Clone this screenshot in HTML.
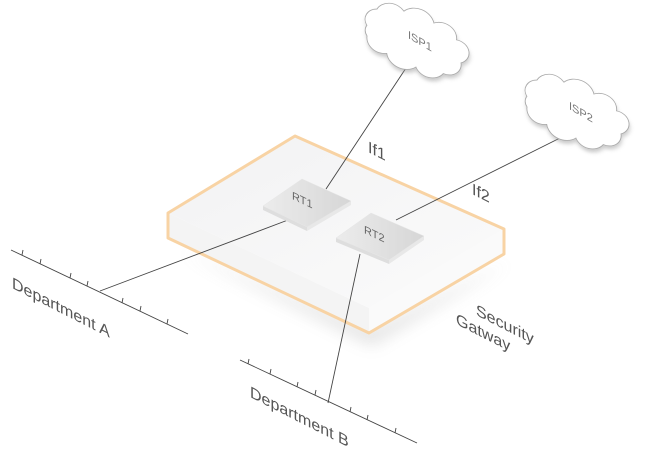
<!DOCTYPE html>
<html><head><meta charset="utf-8"><style>
html,body{margin:0;padding:0;background:#fff;}
svg{display:block;font-family:"Liberation Sans",sans-serif;}
</style></head><body>
<svg width="660" height="453" viewBox="0 0 660 453" xmlns="http://www.w3.org/2000/svg">
<defs>
<linearGradient id="top" x1="0" y1="0" x2="1" y2="1">
<stop offset="0" stop-color="#f2f2f3"/><stop offset="1" stop-color="#fbfbfb"/></linearGradient>
<linearGradient id="rt" x1="0" y1="0" x2="1" y2="0">
<stop offset="0" stop-color="#ececec"/><stop offset="1" stop-color="#d6d6d6"/></linearGradient>
<filter id="sh" x="-20%" y="-20%" width="140%" height="160%"><feGaussianBlur stdDeviation="8"/></filter>
<filter id="cs" x="-20%" y="-20%" width="140%" height="140%"><feGaussianBlur stdDeviation="2"/></filter>
<path id="cloud" d="M -50,10 a12,12 0 0 1 2,-20 a14,14 0 0 1 22,-10 a16,16 0 0 1 28,-2 a14,14 0 0 1 24,6 a12,12 0 0 1 12,20 a12,12 0 0 1 -10,18 a14,14 0 0 1 -24,6 a16,16 0 0 1 -28,0 a14,14 0 0 1 -22,-8 a10,10 0 0 1 -4,-10z"/>
</defs>

<path d="M180,250 L372,345 L510,262 L372,330 Z" fill="#999" opacity="0.3" filter="url(#sh)"/>
<path d="M168,213 L369,308 L369,333 L168,238 Z" fill="#f4f4f4"/>
<path d="M369,308 L504,229 L504,254 L369,333 Z" fill="#fafafa"/>
<path d="M295,136 L504,229 L369,308 L168,213 Z" fill="url(#top)"/>
<path d="M295,136 L504,229 L504,254 L369,333 L168,238 L168,213 Z" fill="none" stroke="#f8d3a4" stroke-width="3" stroke-linejoin="round"/>

<g stroke="#444" stroke-width="0.9" fill="none">
<line x1="410" y1="62" x2="326" y2="189"/>
<line x1="570" y1="133" x2="396" y2="220"/>
<line x1="288" y1="220" x2="100" y2="291"/>
<line x1="360" y1="254" x2="328" y2="403"/>
<line x1="11" y1="250" x2="188" y2="334"/>
<line x1="240" y1="360" x2="417" y2="443"/>
<path d="M22,255 l1,-5 M40,264 l1,-5 M70,278 l1,-5 M87,286 l1,-5 M122,303 l1,-5 M140,311 l1,-5 M167,324 l1,-5"/>
<path d="M248,364 l1,-5 M270,374 l1,-5 M297,387 l1,-5 M315,395 l1,-5 M350,412 l1,-5 M367,420 l1,-5 M395,433 l1,-5"/>
</g>

<path d="M263,206 L307,227 L307,231 L263,210 Z" fill="#dedede"/>
<path d="M307,227 L351,201 L351,205 L307,231 Z" fill="#e8e8e8"/>
<path d="M302,179 L351,201 L307,227 L263,206 Z" fill="url(#rt)" stroke="#e6e6e6" stroke-width="0.5"/>
<text transform="translate(292,199) skewY(25)" font-size="11" fill="#666">RT1</text>
<path d="M336,238 L389,260 L389,264 L336,242 Z" fill="#dedede"/>
<path d="M389,260 L424,236 L424,240 L389,264 Z" fill="#e8e8e8"/>
<path d="M371,213 L424,236 L389,260 L336,238 Z" fill="url(#rt)" stroke="#e6e6e6" stroke-width="0.5"/>
<text transform="translate(364,233) skewY(25)" font-size="11" fill="#666">RT2</text>

<g transform="translate(423,41) rotate(25) scale(1.15,0.95)">
<use href="#cloud" fill="#999" opacity="0.5" filter="url(#cs)" transform="translate(2,3)"/>
<use href="#cloud" fill="#fff" stroke="#aaa" stroke-width="0.8"/>
</g>
<text transform="translate(408,38) skewY(30)" font-size="11" fill="#777">ISP1</text>
<g transform="translate(583,112) rotate(25) scale(1.15,0.95)">
<use href="#cloud" fill="#999" opacity="0.5" filter="url(#cs)" transform="translate(2,3)"/>
<use href="#cloud" fill="#fff" stroke="#aaa" stroke-width="0.8"/>
</g>
<text transform="translate(569,109) skewY(30)" font-size="11" fill="#777">ISP2</text>

<g fill="#555" font-size="16">
<text transform="translate(368,152) skewY(27)">If1</text>
<text transform="translate(472,194) skewY(27)">If2</text>
<text transform="translate(12,288) skewY(27)">Department A</text>
<text transform="translate(250,397) skewY(27)">Department B</text>
<text transform="translate(476,315) skewY(27)">Security</text>
<text transform="translate(456,324) skewY(27)">Gatway</text>
</g>
</svg>
</body></html>
